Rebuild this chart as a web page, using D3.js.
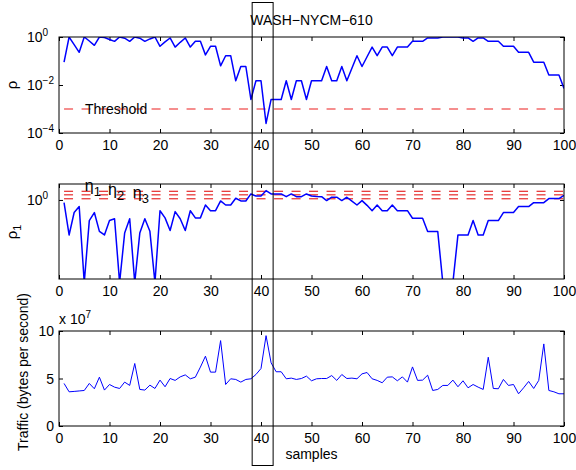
<!DOCTYPE html>
<html>
<head>
<meta charset="utf-8">
<script src="https://cdn.jsdelivr.net/npm/d3@7"></script>
<style>
  body { margin: 0; background: #fff; }
  svg text { font-family: "Liberation Sans", Arial, Helvetica, sans-serif; fill: #000; }
</style>
</head>
<body>
<div id="chart"></div>
<script>
// sample numbers along the x axis
var samples = d3.range(1, 101);

// rho (top panel, log scale)
var rho = [
  0.089, 1.0, 0.48, 0.23, 1.0, 0.68, 0.45, 1.0, 0.95, 0.79,
  0.66, 1.0, 0.89, 0.66, 1.0, 0.89, 0.66, 0.83, 1.0, 0.41,
  0.63, 0.91, 0.38, 0.6, 0.91, 0.38, 0.66, 0.66, 0.18, 0.41,
  0.41, 0.063, 0.166, 0.166, 0.015, 0.059, 0.059, 0.0025, 0.015, 0.015,
  0.00025, 0.0025, 0.0025, 0.0025, 0.015, 0.0025, 0.015, 0.015, 0.0025, 0.015,
  0.015, 0.015, 0.059, 0.015, 0.015, 0.059, 0.015, 0.05, 0.166, 0.059,
  0.15, 0.38, 0.166, 0.38, 0.38, 0.166, 0.38, 0.38, 0.38, 0.66,
  0.66, 0.66, 0.91, 0.91, 0.91, 1.0, 1.0, 1.0, 1.0, 0.91,
  0.91, 0.66, 0.91, 0.91, 0.66, 0.66, 0.66, 0.41, 0.41, 0.41,
  0.23, 0.23, 0.23, 0.089, 0.089, 0.089, 0.026, 0.026, 0.026, 0.0072
];

// rho_1 (middle panel, log scale)
var rho1 = [
  0.933, 0.407, 0.724, 0.843, 0.12, 0.589, 0.724, 0.447, 0.407, 0.589,
  0.617, 0.12, 0.427, 0.617, 0.12, 0.427, 0.617, 0.447, 0.12, 0.759,
  0.631, 0.457, 0.741, 0.617, 0.457, 0.759, 0.631, 0.631, 0.879, 0.759,
  0.759, 0.975, 0.879, 0.879, 1.045, 0.975, 0.975, 1.167, 1.107, 1.107,
  1.27, 1.167, 1.167, 1.167, 1.089, 1.167, 1.089, 1.089, 1.167, 1.107,
  1.096, 1.089, 0.984, 1.072, 1.072, 0.984, 1.072, 0.97, 0.879, 0.984,
  0.871, 0.76, 0.879, 0.76, 0.76, 0.879, 0.76, 0.76, 0.76, 0.625,
  0.625, 0.625, 0.445, 0.445, 0.445, 0.12, 0.12, 0.12, 0.408, 0.408,
  0.408, 0.589, 0.408, 0.408, 0.589, 0.589, 0.589, 0.723, 0.723, 0.723,
  0.843, 0.843, 0.843, 0.933, 0.933, 0.933, 1.035, 1.035, 1.035, 1.127
];

// traffic in units of 10^7 bytes per second (bottom panel)
var traffic = [
  4.48, 3.6, 3.64, 3.69, 3.74, 4.48, 3.92, 5.14, 3.78, 4.37,
  4.09, 3.95, 4.62, 4.27, 6.58, 3.85, 3.78, 4.3, 3.95, 4.83,
  4.13, 5.0, 4.8, 5.17, 5.38, 4.97, 5.14, 6.2, 7.35, 5.67,
  5.67, 8.99, 4.37, 4.97, 4.9, 4.62, 4.9, 4.97, 5.42, 6.05,
  9.51, 6.65, 5.71, 5.71, 4.97, 5.04, 4.9, 5.0, 5.25, 4.76,
  4.97, 5.0, 5.0, 5.31, 4.8, 5.42, 5.0, 5.04, 4.97, 5.49,
  5.63, 4.97, 4.8, 4.55, 5.14, 5.17, 4.76, 5.17, 4.62, 6.22,
  4.8, 4.83, 5.35, 3.74, 3.85, 4.27, 4.27, 4.83, 4.13, 4.76,
  4.02, 4.37, 4.09, 3.85, 7.24, 3.95, 3.92, 4.9, 4.27, 4.37,
  3.39, 4.02, 4.69, 3.95, 4.8, 8.64, 3.74, 3.6, 3.39, 3.39
];

var threshold = 1e-3;
var etaLevels = [1.25, 1.14, 1.03];
var etaLabels = ["1", "2", "3"];
var etaLabelX = [5.1, 9.7, 14.6];
var xTicks = [0, 10, 20, 30, 40, 50, 60, 70, 80, 90, 100];
var rhoTicks = [1e-4, 1e-2, 1];
var rho1Ticks = [1];
var trafficTicks = [0, 5, 10];
var highlight = [38.25, 42.4];   // boxed sample range

var w = 576, h = 470;
var fs = 14;

var svg = d3.select("#chart")
    .append("svg")
    .attr("width", w)
    .attr("height", h);

var x = d3.scaleLinear().domain([0, 100]).range([59, 564]);

var panels = [
  { id: "p1", top: 37, bottom: 133, data: rho, width: 1.5,
    y: d3.scaleLog().domain([1e-4, 1]).range([133, 37]), ticks: rhoTicks, log: true },
  { id: "p2", top: 184, bottom: 279, data: rho1, width: 1.5,
    y: d3.scaleLog().domain([0.1315, 1.506]).range([279, 184]), ticks: rho1Ticks, log: true },
  { id: "p3", top: 331, bottom: 426, data: traffic, width: 1,
    y: d3.scaleLinear().domain([0, 10]).range([426, 331]), ticks: trafficTicks, log: false }
];

var defs = svg.append("defs");

panels.forEach(function(p) {
  defs.append("clipPath").attr("id", "clip-" + p.id)
    .append("rect")
    .attr("x", x.range()[0]).attr("y", p.top)
    .attr("width", x.range()[1] - x.range()[0])
    .attr("height", p.bottom - p.top);

  var g = svg.append("g").attr("class", p.id);

  // inward tick marks on all four sides
  var axB = d3.axisBottom(x).tickValues(xTicks).tickSize(-4).tickPadding(7);
  var axT = d3.axisTop(x).tickValues(xTicks).tickSize(-4).tickFormat("");
  var axL = d3.axisLeft(p.y).tickValues(p.ticks).tickSize(-4).tickFormat("");
  var axR = d3.axisRight(p.y).tickValues(p.ticks).tickSize(-4).tickFormat("");

  var gb = g.append("g").attr("transform", "translate(0," + p.bottom + ")").call(axB);
  g.append("g").attr("transform", "translate(0," + p.top + ")").call(axT);
  g.append("g").attr("transform", "translate(" + x.range()[0] + ",0)").call(axL);
  g.append("g").attr("transform", "translate(" + x.range()[1] + ",0)").call(axR);
  g.selectAll(".domain").remove();
  g.selectAll(".tick line").attr("stroke", "#000");
  gb.selectAll("text").attr("font-size", fs).attr("fill", "#000")
    .attr("font-family", "'Liberation Sans', Arial, sans-serif");

  // y tick labels
  if (p.log) {
    p.ticks.forEach(function(t) {
      var e = Math.round(Math.log10(t));
      var txt = g.append("text")
        .attr("x", 27).attr("y", p.y(t) + 5)
        .attr("font-size", fs)
        .text("10");
      txt.append("tspan")
        .attr("dy", -6).attr("font-size", 10)
        .text(e < 0 ? "\u2212" + (-e) : "" + e);
    });
  } else {
    p.ticks.forEach(function(t) {
      g.append("text")
        .attr("x", 54).attr("y", p.y(t) + 5)
        .attr("text-anchor", "end")
        .attr("font-size", fs)
        .text(t);
    });
  }

  // data line
  var line = d3.line()
    .x(function(d, i) { return x(samples[i]); })
    .y(function(d) { return p.y(d); });

  var plot = g.append("g").attr("clip-path", "url(#clip-" + p.id + ")");
  p.plot = plot;
  plot.append("path")
    .datum(p.data)
    .attr("fill", "none")
    .attr("stroke", "#0000ff")
    .attr("stroke-width", p.width)
    .attr("stroke-linejoin", "round")
    .attr("d", line);

  // frame
  g.append("rect")
    .attr("x", x.range()[0]).attr("y", p.top)
    .attr("width", x.range()[1] - x.range()[0])
    .attr("height", p.bottom - p.top)
    .attr("fill", "none")
    .attr("stroke", "#000")
    .attr("stroke-width", 1);
});

// threshold line in top panel
var p1 = panels[0];
p1.plot.insert("line", "path")
  .attr("x1", x(1)).attr("x2", x(100))
  .attr("y1", p1.y(threshold)).attr("y2", p1.y(threshold))
  .attr("stroke", "#f26a6a")
  .attr("stroke-width", 1.5)
  .attr("stroke-dasharray", "9,8.5");

svg.append("text")
  .attr("x", 85).attr("y", p1.y(threshold) + 5)
  .attr("font-size", 14)
  .text("Threshold");

// eta levels in middle panel
var p2 = panels[1];
p2.plot.selectAll(".eta")
  .data(etaLevels)
  .enter()
  .insert("line", "path")
  .attr("class", "eta")
  .attr("x1", x(1)).attr("x2", x(100))
  .attr("y1", function(d) { return p2.y(d); })
  .attr("y2", function(d) { return p2.y(d); })
  .attr("stroke", "#e00000")
  .attr("stroke-width", 1)
  .attr("stroke-dasharray", "9,8.5");

etaLabels.forEach(function(s, i) {
  var t = svg.append("text")
    .attr("x", x(etaLabelX[i]))
    .attr("y", 191 + i * 3.5)
    .attr("font-size", 16)
    .text("\u03b7");
  t.append("tspan").attr("dy", 5).attr("font-size", 13).text(s);
});

// axis labels
svg.append("text")
  .attr("transform", "translate(17," + ((p1.top + p1.bottom) / 2) + ") rotate(-90)")
  .attr("text-anchor", "middle")
  .attr("font-size", 15)
  .text("\u03c1");

var r1 = svg.append("text")
  .attr("transform", "translate(17,232) rotate(-90)")
  .attr("text-anchor", "middle")
  .attr("font-size", 15)
  .text("\u03c1");
r1.append("tspan").attr("dy", 4).attr("font-size", 11).text("1");

svg.append("text")
  .attr("transform", "translate(28,372) rotate(-90)")
  .attr("text-anchor", "middle")
  .attr("font-size", fs)
  .text("Traffic (bytes per second)");

var ex = svg.append("text")
  .attr("x", 59).attr("y", 324)
  .attr("font-size", fs)
  .text("x 10");
ex.append("tspan").attr("dy", -6).attr("font-size", 10).text("7");

svg.append("text")
  .attr("x", x(50)).attr("y", 459)
  .attr("text-anchor", "middle")
  .attr("font-size", fs)
  .text("samples");

svg.append("text")
  .attr("x", x(50)).attr("y", 25)
  .attr("text-anchor", "middle")
  .attr("font-size", fs)
  .text("WASH\u2212NYCM\u2212610");

// box around the anomaly
svg.append("rect")
  .attr("x", x(highlight[0]))
  .attr("y", 2.5)
  .attr("width", x(highlight[1]) - x(highlight[0]))
  .attr("height", 463)
  .attr("fill", "none")
  .attr("stroke", "#000")
  .attr("stroke-width", 1);
</script>
</body>
</html>
